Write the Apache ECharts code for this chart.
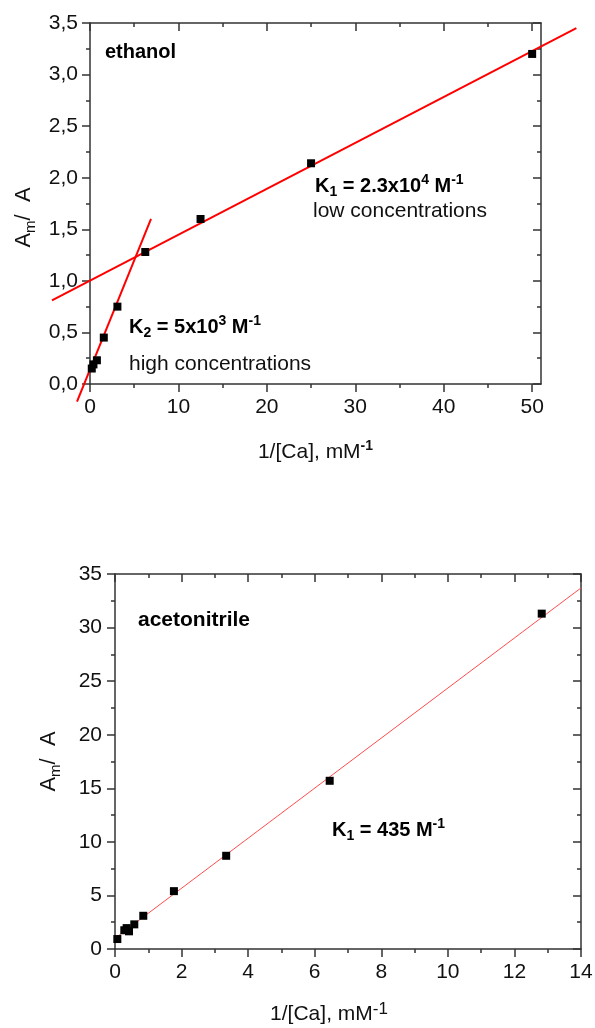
<!DOCTYPE html>
<html>
<head>
<meta charset="utf-8">
<script src="https://cdn.jsdelivr.net/npm/echarts@6/dist/echarts.min.js"></script>
<style>
  html, body { margin: 0; padding: 0; background: #fff; }
  #chart { width: 595px; height: 1028px; }
</style>
</head>
<body>
<div id="chart"></div>
<script>
// ethanol panel
var ethanolPoints = [[0.2, 0.15], [0.39, 0.19], [0.78, 0.23], [1.56, 0.45], [3.1, 0.75],
                     [6.25, 1.28], [12.5, 1.60], [25, 2.14], [50, 3.20]];
var ethanolFitLow = [[-4.3, 0.81], [55, 3.45]];
var ethanolFitHigh = [[-1.47, -0.17], [6.9, 1.60]];
var ethanolXTicks = [0, 10, 20, 30, 40, 50];

// acetonitrile panel
var acetoPoints = [[0.07, 0.93], [0.28, 1.75], [0.35, 1.95], [0.42, 1.65], [0.58, 2.3],
                   [0.85, 3.1], [1.77, 5.4], [3.34, 8.7], [6.45, 15.7], [12.82, 31.3]];
var acetoFit = [[0, 1.0], [14, 33.7]];

var FONT = 'Liberation Sans, Arial, Helvetica, sans-serif';
var AXIS = '#333';

var chartDiv = document.getElementById('chart');
var chart = echarts.init(chartDiv);

function comma(v) {
  return v.toFixed(1).replace('.', ',');
}

// main axis (bottom / left) with labels and outward ticks
function mainAxis(grid, pos, opts) {
  var ax = {
    type: 'value',
    gridIndex: grid,
    position: pos,
    min: opts.min,
    max: opts.max,
    interval: opts.interval,
    axisLine: { show: true, onZero: false, lineStyle: { color: AXIS, width: 1.5 } },
    axisTick: { show: true, inside: false, length: 8, lineStyle: { color: AXIS, width: 1.5 } },
    minorTick: { show: true, splitNumber: 2, length: 4, lineStyle: { color: AXIS, width: 1.5 } },
    splitLine: { show: false },
    axisLabel: {
      show: true, color: '#111', fontSize: 21, fontFamily: FONT,
      margin: opts.margin, formatter: opts.formatter
    },
    name: opts.name,
    nameLocation: 'middle',
    nameGap: opts.nameGap,
    nameRotate: opts.nameRotate,
    nameTextStyle: opts.nameStyle
  };
  if (opts.ticks) {
    ax.axisTick.customValues = opts.ticks;
    ax.axisLabel.customValues = opts.ticks;
  }
  return ax;
}

// mirror axis (top / right) with inward ticks, no labels
function mirrorAxis(grid, pos, opts) {
  var ax = {
    type: 'value',
    gridIndex: grid,
    position: pos,
    min: opts.min,
    max: opts.max,
    interval: opts.interval,
    axisLine: { show: true, onZero: false, lineStyle: { color: AXIS, width: 1.5 } },
    axisTick: { show: true, inside: true, length: 8, lineStyle: { color: AXIS, width: 1.5 } },
    minorTick: { show: true, splitNumber: 2, length: 4, lineStyle: { color: AXIS, width: 1.5 } },
    splitLine: { show: false },
    axisLabel: { show: false }
  };
  if (opts.ticks) {
    ax.axisTick.customValues = opts.ticks;
  }
  return ax;
}

// hidden axis on a bigger grid, same scale as the visible one,
// so the fit lines can run past the frame like in the original plot
function hiddenAxis(grid, min, max) {
  return { type: 'value', gridIndex: grid, min: min, max: max, show: false,
           splitLine: { show: false } };
}

// ethanol frame in pixels and the larger overlay box
var ethGrid = { left: 90, top: 23, width: 451, height: 361 };
var ethOver = { left: 40, top: 0, width: 550, height: 420 };

var yNameStyle = {
  color: '#111',
  fontFamily: FONT,
  rich: {
    a: { fontSize: 22, fontFamily: FONT, color: '#111', lineHeight: 28 },
    s: { fontSize: 15, fontFamily: FONT, color: '#111', lineHeight: 15, verticalAlign: 'bottom' }
  }
};
var xNameStyleTop = {
  color: '#111',
  fontFamily: FONT,
  rich: {
    a: { fontSize: 21, fontFamily: FONT, color: '#111', lineHeight: 26 },
    p: { fontSize: 14, fontFamily: FONT, fontWeight: 'bold', color: '#111', lineHeight: 14, verticalAlign: 'top' }
  }
};
var xNameStyleBottom = {
  color: '#111',
  fontFamily: FONT,
  padding: [0, 38, 0, 0],
  rich: {
    a: { fontSize: 21, fontFamily: FONT, color: '#111', lineHeight: 26 },
    p: { fontSize: 17, fontFamily: FONT, color: '#111', lineHeight: 15, verticalAlign: 'top' }
  }
};

var ethX = { min: 0, max: 51, interval: 10, ticks: ethanolXTicks, margin: 13,
             name: '{a|1/[Ca], mM}{p|-1}', nameGap: 55, nameStyle: xNameStyleTop };
var ethY = { min: 0, max: 3.5, interval: 0.5, margin: 12, formatter: comma,
             name: '{a|A}{s|m}{a|/  A}', nameGap: 52, nameRotate: 90,
             nameStyle: Object.assign({}, yNameStyle, { padding: [0, 28, 0, 0] }) };
var aceX = { min: 0, max: 14, interval: 2, margin: 13,
             name: '{a|1/[Ca], mM}{p|-1}', nameGap: 52, nameStyle: xNameStyleBottom };
var aceY = { min: 0, max: 35, interval: 5, margin: 13,
             name: '{a|A}{s|m}{a|/  A}', nameGap: 52, nameRotate: 90, nameStyle: yNameStyle };

// overlay extents derived from the visible frame
var kx = (ethX.max - ethX.min) / ethGrid.width;
var overXMin = ethX.min + (ethOver.left - ethGrid.left) * kx;
var overXMax = overXMin + ethOver.width * kx;
var ky = (ethY.max - ethY.min) / ethGrid.height;
var overYMax = ethY.max + (ethGrid.top - ethOver.top) * ky;
var overYMin = overYMax - ethOver.height * ky;

var bold = { fontSize: 20, fontWeight: 'bold', fontFamily: FONT, fill: '#000', lineHeight: 26 };
var boldSub = { fontSize: 14, fontWeight: 'bold', fontFamily: FONT, fill: '#000', lineHeight: 14, verticalAlign: 'bottom' };
var boldSup = { fontSize: 14, fontWeight: 'bold', fontFamily: FONT, fill: '#000', lineHeight: 14, verticalAlign: 'top' };
var plain = { fontSize: 21, fontFamily: FONT, fill: '#111' };

function label(x, y, text, rich) {
  return {
    type: 'text', x: x, y: y, z: 100,
    style: { text: text, rich: rich, verticalAlign: 'middle', align: 'left', fill: '#000' }
  };
}
var kRich = { b: bold, s: boldSub, p: boldSup };

option = {
  backgroundColor: '#fff',
  animation: false,
  grid: [
    Object.assign({ outerBoundsMode: 'none' }, ethGrid),
    { left: 115, top: 574, width: 466, height: 375, outerBoundsMode: 'none' },
    Object.assign({ outerBoundsMode: 'none', show: false }, ethOver)
  ],
  xAxis: [
    mainAxis(0, 'bottom', ethX),
    mirrorAxis(0, 'top', ethX),
    mainAxis(1, 'bottom', aceX),
    mirrorAxis(1, 'top', aceX),
    hiddenAxis(2, overXMin, overXMax)
  ],
  yAxis: [
    mainAxis(0, 'left', ethY),
    mirrorAxis(0, 'right', ethY),
    mainAxis(1, 'left', aceY),
    mirrorAxis(1, 'right', aceY),
    hiddenAxis(2, overYMin, overYMax)
  ],
  series: [
    {
      name: 'ethanol fit low', type: 'line', xAxisIndex: 4, yAxisIndex: 4,
      data: ethanolFitLow, symbol: 'none',
      lineStyle: { color: '#f00', width: 2 }, z: 2
    },
    {
      name: 'ethanol fit high', type: 'line', xAxisIndex: 4, yAxisIndex: 4,
      data: ethanolFitHigh, symbol: 'none',
      lineStyle: { color: '#f00', width: 2 }, z: 2
    },
    {
      name: 'ethanol', type: 'scatter', xAxisIndex: 0, yAxisIndex: 0,
      data: ethanolPoints, symbol: 'rect', symbolSize: 8,
      itemStyle: { color: '#000', opacity: 1 }, z: 3
    },
    {
      name: 'acetonitrile fit', type: 'line', xAxisIndex: 2, yAxisIndex: 2,
      data: acetoFit, symbol: 'none',
      lineStyle: { color: '#ff4d4d', width: 1 }, z: 2
    },
    {
      name: 'acetonitrile', type: 'scatter', xAxisIndex: 2, yAxisIndex: 2,
      data: acetoPoints, symbol: 'rect', symbolSize: 8,
      itemStyle: { color: '#000', opacity: 1 }, z: 3
    }
  ],
  graphic: [
    label(105, 52, '{b|ethanol}', { b: { fontSize: 20, fontWeight: 'bold', fontFamily: FONT, fill: '#000' } }),
    label(315, 186, '{b|K}{s|1}{b| = 2.3x10}{p|4}{b| M}{p|-1}', kRich),
    label(313, 211, '{t|low concentrations}', { t: plain }),
    label(129, 327, '{b|K}{s|2}{b| = 5x10}{p|3}{b| M}{p|-1}', kRich),
    label(129, 364, '{t|high concentrations}', { t: plain }),
    label(138, 620, '{b|acetonitrile}', { b: { fontSize: 21, fontWeight: 'bold', fontFamily: FONT, fill: '#000' } }),
    label(332, 830, '{b|K}{s|1}{b| = 435 M}{p|-1}', kRich)
  ]
};

option && chart.setOption(option);

window.addEventListener('resize', function () {
  setTimeout(function () { chart.resize(); }, 200);
});
</script>
</body>
</html>
